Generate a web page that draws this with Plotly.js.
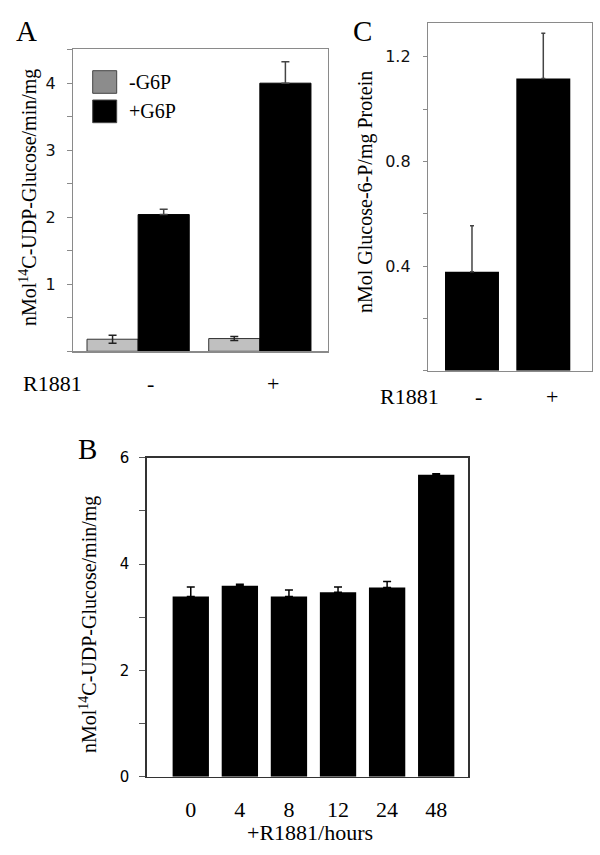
<!DOCTYPE html>
<html>
<head>
<meta charset="utf-8">
<script src="https://cdn.plot.ly/plotly-3.0.1.min.js"></script>
<style>html,body{margin:0;padding:0;background:#fff;}#chart{width:600px;height:855px;}</style>
</head>
<body>
<div id="chart"></div>
<script>
// Panel A: UDP-glucose incorporation, -/+ R1881, -/+ G6P
const catsA = ['-', '+'];
const minusG6P = [0.18, 0.19];
const minusG6PErr = [0.06, 0.03];
const plusG6P = [2.04, 4.0];
const plusG6PErr = [0.08, 0.32];

// Panel C: Glucose-6-P content
const catsC = ['-', '+'];
const g6pContent = [0.378, 1.117];
const g6pContentErr = [0.176, 0.173];

// Panel B: time course with R1881
const hoursB = ['0', '4', '8', '12', '24', '48'];
const activityB = [3.39, 3.59, 3.39, 3.47, 3.56, 5.68];
const activityErrB = [0.18, 0.03, 0.12, 0.10, 0.11, 0.02];

const serif = 'Liberation Serif, Times New Roman, serif';
const sans = 'DejaVu Sans, Verdana, sans-serif';
const zeros = n => new Array(n).fill(0);

const traces = [
  {type:'bar', x:catsA, y:minusG6P, xaxis:'x', yaxis:'y', name:'-G6P',
   offset:-0.42, width:0.42,
   marker:{color:'#c0c0c0', line:{color:'#333', width:1}},
   error_y:{type:'data', array:minusG6PErr, visible:true, color:'#222', thickness:1.5, width:4}},
  {type:'bar', x:catsA, y:plusG6P, xaxis:'x', yaxis:'y', name:'+G6P',
   offset:0, width:0.42,
   marker:{color:'#000', line:{color:'#000', width:1}},
   error_y:{type:'data', symmetric:false, array:plusG6PErr, arrayminus:zeros(plusG6PErr.length),
            visible:true, color:'#444', thickness:1.5, width:4}},
  {type:'bar', x:catsC, y:g6pContent, xaxis:'x2', yaxis:'y2', name:'G6P',
   width:0.757,
   marker:{color:'#000'},
   error_y:{type:'data', symmetric:false, array:g6pContentErr, arrayminus:zeros(g6pContentErr.length),
            visible:true, color:'#444', thickness:1.5, width:2}},
  {type:'bar', x:hoursB, y:activityB, xaxis:'x3', yaxis:'y3', name:'R1881 hours',
   width:0.74,
   marker:{color:'#000'},
   error_y:{type:'data', symmetric:false, array:activityErrB, arrayminus:zeros(activityErrB.length),
            visible:true, color:'#000', thickness:1.5, width:4}}
];

function P(px){return px/600;}
function Q(py){return 1-py/855;}

const layout = {
  width:600, height:855,
  margin:{l:0, r:0, t:0, b:0},
  paper_bgcolor:'#fff', plot_bgcolor:'#fff',
  showlegend:false,
  barmode:'group',
  xaxis:{domain:[P(73), P(328)], anchor:'y', type:'category', range:[-0.535, 1.56],
         showline:true, mirror:true, linecolor:'#8a8a8a', linewidth:1.2,
         showticklabels:false, ticks:'', showgrid:false, zeroline:false},
  yaxis:{domain:[Q(351.3), Q(49)], anchor:'x', range:[0, 4.51],
         tickmode:'array', tickvals:[1,2,3,4],
         ticks:'outside', ticklen:5, tickcolor:'#8a8a8a', ticklabelstandoff:8,
         minor:{tickmode:'linear', tick0:0, dtick:0.5, ticks:'outside', ticklen:5, tickcolor:'#8a8a8a', showgrid:false},
         tickfont:{family:sans, size:16, color:'#111'},
         showline:true, mirror:true, linecolor:'#8a8a8a', linewidth:1.2,
         showgrid:false, zeroline:false},
  xaxis2:{domain:[P(428), P(592)], anchor:'y2', type:'category', range:[-0.617, 1.683],
         showline:true, mirror:true, linecolor:'#8a8a8a', linewidth:1.2,
         showticklabels:false, ticks:'', showgrid:false, zeroline:false},
  yaxis2:{domain:[Q(370.7), Q(22.7)], anchor:'x2', range:[0, 1.33],
         tickmode:'array', tickvals:[0.4,0.8,1.2], ticktext:['0.4','0.8','1.2'],
         ticks:'outside', ticklen:4, tickcolor:'#8a8a8a', ticklabelstandoff:9,
         minor:{tickmode:'linear', tick0:0, dtick:0.2, ticks:'outside', ticklen:4, tickcolor:'#8a8a8a', showgrid:false},
         tickfont:{family:sans, size:16, color:'#111'},
         showline:true, mirror:true, linecolor:'#8a8a8a', linewidth:1.2,
         showgrid:false, zeroline:false},
  xaxis3:{domain:[P(146.7), P(468.3)], anchor:'y3', type:'category', range:[-0.898, 5.654],
         showline:true, mirror:true, linecolor:'#333', linewidth:1.5,
         ticks:'', ticklabelstandoff:12,
         tickfont:{family:serif, size:22, color:'#000'},
         showgrid:false, zeroline:false},
  yaxis3:{domain:[Q(776.7), Q(457.7)], anchor:'x3', range:[0, 6.0],
         tickmode:'array', tickvals:[0,2,4,6],
         ticks:'outside', ticklen:6, tickcolor:'#555', ticklabelstandoff:7,
         minor:{tickmode:'linear', tick0:0, dtick:1, ticks:'outside', ticklen:6, tickcolor:'#555', showgrid:false},
         tickfont:{family:sans, size:15, color:'#000'},
         showline:true, mirror:true, linecolor:'#333', linewidth:1.5,
         showgrid:false, zeroline:false},
  shapes:[
    {type:'rect', xref:'paper', yref:'paper', x0:P(92.7), x1:P(116.7), y0:Q(93.3), y1:Q(70.7),
     fillcolor:'#8c8c8c', line:{color:'#444', width:1}},
    {type:'rect', xref:'paper', yref:'paper', x0:P(92.7), x1:P(116.7), y0:Q(122.7), y1:Q(100),
     fillcolor:'#000', line:{color:'#444', width:1}}
  ],
  annotations:[
    {text:'-G6P', xref:'paper', yref:'paper', x:P(127), y:Q(82), xanchor:'left', yanchor:'middle', showarrow:false,
     font:{family:serif, size:20, color:'#000'}},
    {text:'+G6P', xref:'paper', yref:'paper', x:P(127), y:Q(111), xanchor:'left', yanchor:'middle', showarrow:false,
     font:{family:serif, size:20, color:'#000'}},
    {text:'A', xref:'paper', yref:'paper', x:P(26), y:Q(31), xanchor:'center', yanchor:'middle', showarrow:false,
     font:{family:serif, size:29, color:'#000'}},
    {text:'C', xref:'paper', yref:'paper', x:P(362), y:Q(31), xanchor:'center', yanchor:'middle', showarrow:false,
     font:{family:serif, size:29, color:'#000'}},
    {text:'B', xref:'paper', yref:'paper', x:P(87), y:Q(449), xanchor:'center', yanchor:'middle', showarrow:false,
     font:{family:serif, size:29, color:'#000'}},
    {text:'nMol<sup>14</sup>C-UDP-Glucose/min/mg', xref:'paper', yref:'paper', x:P(28), y:Q(198), textangle:-90,
     xanchor:'center', yanchor:'middle', showarrow:false, font:{family:serif, size:20, color:'#000'}},
    {text:'nMol Glucose-6-P/mg Protein', xref:'paper', yref:'paper', x:P(365), y:Q(192), textangle:-90,
     xanchor:'center', yanchor:'middle', showarrow:false, font:{family:serif, size:20, color:'#000'}},
    {text:'nMol<sup>14</sup>C-UDP-Glucose/min/mg', xref:'paper', yref:'paper', x:P(88), y:Q(625), textangle:-90,
     xanchor:'center', yanchor:'middle', showarrow:false, font:{family:serif, size:20, color:'#000'}},
    {text:'R1881', xref:'paper', yref:'paper', x:P(52.5), y:Q(383), xanchor:'center', yanchor:'middle', showarrow:false,
     font:{family:serif, size:22, color:'#000'}},
    {text:'-', xref:'paper', yref:'paper', x:P(150), y:Q(383), xanchor:'center', yanchor:'middle', showarrow:false,
     font:{family:serif, size:22, color:'#000'}},
    {text:'+', xref:'paper', yref:'paper', x:P(273), y:Q(383), xanchor:'center', yanchor:'middle', showarrow:false,
     font:{family:serif, size:22, color:'#000'}},
    {text:'R1881', xref:'paper', yref:'paper', x:P(409.5), y:Q(397), xanchor:'center', yanchor:'middle', showarrow:false,
     font:{family:serif, size:22, color:'#000'}},
    {text:'-', xref:'paper', yref:'paper', x:P(478), y:Q(397), xanchor:'center', yanchor:'middle', showarrow:false,
     font:{family:serif, size:22, color:'#000'}},
    {text:'+', xref:'paper', yref:'paper', x:P(552), y:Q(397), xanchor:'center', yanchor:'middle', showarrow:false,
     font:{family:serif, size:22, color:'#000'}},
    {text:'+R1881/hours', xref:'paper', yref:'paper', x:P(310), y:Q(832), xanchor:'center', yanchor:'middle', showarrow:false,
     font:{family:serif, size:22, color:'#000'}}
  ]
};

Plotly.newPlot('chart', traces, layout, {staticPlot:true, displayModeBar:false});
</script>
</body>
</html>
